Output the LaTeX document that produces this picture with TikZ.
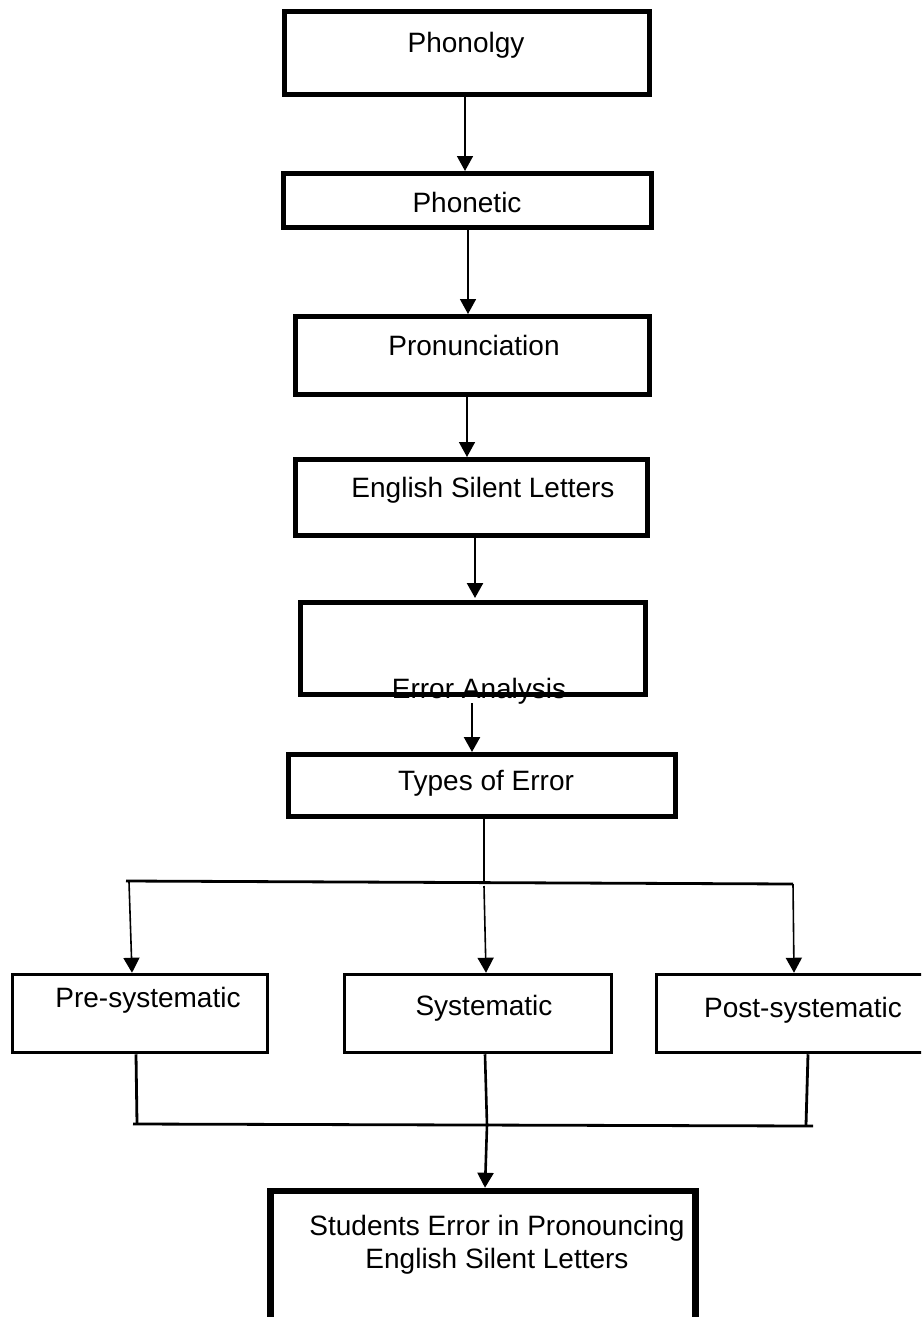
\documentclass[tikz,border=0pt]{standalone}
\usepackage{fontspec}
\setmainfont{Liberation Sans}
\usetikzlibrary{arrows.meta}
\tikzset{
  box/.style={draw=black, line width=5pt, fill=none, inner sep=0pt},
  thinbox/.style={draw=black, line width=3.5pt, inner sep=0pt},
  bigbox/.style={draw=black, line width=6.5pt, inner sep=0pt},
  lbl/.style={anchor=base, inner sep=0pt, font=\fontsize{28}{34}\selectfont},
  arr/.style={-{Triangle[length=15pt,width=16pt]}, line width=1.6pt},
  conn/.style={line width=2.8pt},
}
\begin{document}
\begin{tikzpicture}[x=1pt,y=-1pt]
\clip (0,0) rectangle (921,1317);
\fill[white] (0,0) rectangle (921,1317);
% boxes
\node[box, minimum width=365pt, minimum height=83pt] (b1) at (467,53) {};
\node[box, minimum width=368pt, minimum height=54pt] (b2) at (467.5,200.5) {};
\node[box, minimum width=354pt, minimum height=78pt] (b3) at (472.5,355.5) {};
\node[box, minimum width=352pt, minimum height=76pt] (b4) at (471.5,497.5) {};
\node[box, minimum width=345pt, minimum height=92pt] (b5) at (473,648.5) {};
\node[box, minimum width=387pt, minimum height=62pt] (b6) at (482,785.5) {};
\node[thinbox, minimum width=255pt, minimum height=78pt] (pre) at (140,1013.5) {};
\node[thinbox, minimum width=267pt, minimum height=78pt] (sys) at (478,1013.5) {};
\node[thinbox, minimum width=302pt, minimum height=78pt] (post) at (807.5,1013.5) {};
\node[bigbox, minimum width=425pt, minimum height=206pt] (stud) at (483,1294) {};
% texts
\node[lbl] (t1) at (466,52) {Phonolgy};
\node[lbl] (t2) at (467,212) {Phonetic};
\node[lbl] (t3) at (474,355) {Pronunciation};
\node[lbl] (t4) at (483,497) {English Silent Letters};
\node[lbl] (t5) at (479,698) {Error Analysis};
\node[lbl] (t6) at (486,790) {Types of Error};
\node[lbl] (t7) at (148,1007) {Pre-systematic};
\node[lbl] (t8) at (484,1015) {Systematic};
\node[lbl] (t9) at (803,1017) {Post-systematic};
\node[lbl] (t10) at (497,1235) {Students Error in Pronouncing};
\node[lbl] (t11) at (497,1268) {English Silent Letters};
% junction coordinates
\coordinate (j1) at (484,883);
\coordinate (hl) at (126,881);
\coordinate (hr) at (793,884);
\coordinate (s1) at (129,882);
\coordinate (s2) at (484,886);
\coordinate (s3) at (793,884);
\coordinate (bl) at (133,1124);
\coordinate (br) at (813,1126);
\coordinate (e1) at (137,1124);
\coordinate (e2) at (487,1125);
\coordinate (e3) at (806,1125);
% connectors (top chain)
\draw[arr] ([xshift=-2pt]b1.south) -- ([xshift=-2.5pt]b2.north);
\draw[arr] ([xshift=0.5pt]b2.south) -- ([xshift=-4.5pt]b3.north);
\draw[arr] ([xshift=-5.5pt]b3.south) -- ([xshift=-4.5pt]b4.north);
\draw[arr, line width=2.4pt] ([xshift=3.5pt]b4.south) -- ([xshift=2pt,yshift=2pt]b5.north);
\draw[arr, line width=2.4pt] ([xshift=-1pt,yshift=-6pt]b5.south) -- ([xshift=-10pt]b6.north);
% branching
\draw[conn] ([xshift=2pt]b6.south) -- (j1);
\draw[conn] (hl) -- (hr);
\draw[arr] (s1) -- ([xshift=-8pt]pre.north);
\draw[arr] (s2) -- ([xshift=8pt]sys.north);
\draw[arr] (s3) -- ([xshift=-13.5pt]post.north);
% merging
\draw[conn] ([xshift=-4pt]pre.south) -- (e1);
\draw[conn] ([xshift=0.5pt]post.south) -- (e3);
\draw[conn] (bl) -- (br);
\draw[arr, line width=2.6pt] ([xshift=7pt]sys.south) -- (e2) -- ([xshift=2pt]stud.north);
\end{tikzpicture}
\end{document}
